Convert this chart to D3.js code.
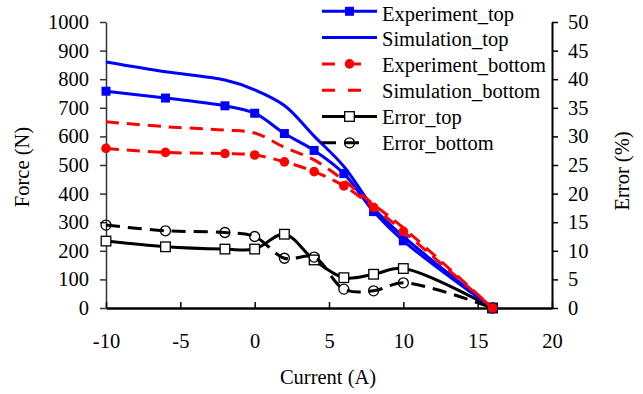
<!DOCTYPE html>
<html>
<head>
<meta charset="utf-8">
<script src="https://cdn.jsdelivr.net/npm/d3@7"></script>
<style>
  html, body { margin: 0; padding: 0; background: #fff; }
  svg { display: block; }
</style>
</head>
<body>
<svg id="chart" width="643" height="394"></svg>
<script>
// Current (A) at each measurement
const current = [-10, -6, -2, 0, 2, 4, 6, 8, 10, 16];

// Force (N)
const experimentTop    = [758, 734, 707, 681, 610, 551, 470, 337, 235, 0];
const simulationTop    = [860, 826, 797, 763, 708, 601, 495, 350, 250, 0];
const experimentBottom = [558, 544, 540, 535, 511, 477, 427, 352, 268, 0];
const simulationBottom = [651, 634, 622, 612, 562, 518, 446, 362, 280, 0];

// Error (%)
const errorTop    = [11.7, 10.7, 10.3, 10.3, 12.9, 8.4, 5.3, 5.9, 6.9, 0];
const errorBottom = [14.5, 13.5, 13.2, 12.5, 8.7, 8.9, 3.3, 3.0, 4.4, 0];

// Tick labels
const xTicks = [-10, -5, 0, 5, 10, 15, 20];
const forceTicks = [0, 100, 200, 300, 400, 500, 600, 700, 800, 900, 1000];
const errorTicks = [0, 5, 10, 15, 20, 25, 30, 35, 40, 45, 50];

const FONT = "'Liberation Serif', 'Times New Roman', Tinos, 'DejaVu Serif', serif";
const FONT_SIZE = "20.5px";

const svg = d3.select("#chart");

const x = d3.scaleLinear().domain([-10, 20]).range([106, 552]);
const yF = d3.scaleLinear().domain([0, 1000]).range([308, 22]);
const yE = d3.scaleLinear().domain([0, 50]).range([308, 22]);

// Axes
const gLeft = svg.append("g").attr("transform", "translate(106,0)")
  .call(d3.axisLeft(yF).tickValues(forceTicks).tickFormat(d3.format("d"))
    .tickSizeInner(6).tickSizeOuter(0).tickPadding(11));
const gRight = svg.append("g").attr("transform", "translate(552,0)")
  .call(d3.axisRight(yE).tickValues(errorTicks).tickFormat(d3.format("d"))
    .tickSizeInner(6).tickSizeOuter(0).tickPadding(10));
const gBottom = svg.append("g").attr("transform", "translate(0,308)")
  .call(d3.axisBottom(x).tickValues(xTicks).tickFormat(d => d < 0 ? "-" + Math.abs(d) : String(d))
    .tickSizeInner(-6).tickSizeOuter(0).tickPadding(25));

[gLeft, gRight, gBottom].forEach(g => {
  g.attr("font-family", FONT).attr("font-size", FONT_SIZE);
  g.selectAll("text").attr("fill", "#000");
});
gLeft.select(".domain").attr("stroke", "#333").attr("stroke-width", 1.5);
gLeft.selectAll(".tick line").attr("stroke", "#333").attr("stroke-width", 1.5);
gRight.select(".domain").attr("stroke", "#000").attr("stroke-width", 2);
gRight.selectAll(".tick line").attr("stroke", "#000").attr("stroke-width", 1.5);
gBottom.select(".domain").attr("stroke", "#000").attr("stroke-width", 2.5);
gBottom.selectAll(".tick line").attr("stroke", "#000").attr("stroke-width", 1.5);

// Axis titles
function title(sel) {
  return sel.attr("text-anchor", "middle").attr("font-family", FONT).attr("font-size", FONT_SIZE);
}
title(svg.append("text").attr("x", 328).attr("y", 384)).text("Current (A)");
title(svg.append("text").attr("transform", "translate(29,167) rotate(-90)")).text("Force (N)");
title(svg.append("text").attr("transform", "translate(629,171) rotate(-90)")).text("Error (%)");

const smooth = d3.curveCatmullRom.alpha(0.5);

const series = [
  { name: "Error_top", values: errorTop, scale: yE, color: "#000", dash: null, marker: "openSquare" },
  { name: "Error_bottom", values: errorBottom, scale: yE, color: "#000", dash: "14,8", marker: "openCircle" },
  { name: "Experiment_top", values: experimentTop, scale: yF, color: "#0000ff", dash: null, marker: "square" },
  { name: "Simulation_top", values: simulationTop, scale: yF, color: "#0000ff", dash: null, marker: null },
  { name: "Experiment_bottom", values: experimentBottom, scale: yF, color: "#ff0000", dash: "13,8", marker: "circle" },
  { name: "Simulation_bottom", values: simulationBottom, scale: yF, color: "#ff0000", dash: "13,8", marker: null }
];

function drawMarker(g, type, cx, cy, color) {
  if (type === "square") {
    g.append("rect").attr("x", cx - 4.5).attr("y", cy - 4.5).attr("width", 9).attr("height", 9)
      .attr("fill", color);
  } else if (type === "circle") {
    g.append("circle").attr("cx", cx).attr("cy", cy).attr("r", 4.8).attr("fill", color);
  } else if (type === "openSquare") {
    g.append("rect").attr("x", cx - 4.8).attr("y", cy - 4.8).attr("width", 9.6).attr("height", 9.6)
      .attr("fill", "#fff").attr("stroke", color).attr("stroke-width", 1.3);
  } else if (type === "openCircle") {
    g.append("circle").attr("cx", cx).attr("cy", cy).attr("r", 5)
      .attr("fill", "none").attr("stroke", color).attr("stroke-width", 1.3);
  }
}

const plot = svg.append("g");
series.forEach(s => {
  const pts = current.map((c, i) => [x(c), s.scale(s.values[i])]);
  const line = d3.line().curve(smooth);
  plot.append("path").attr("d", line(pts)).attr("fill", "none")
    .attr("stroke", s.color).attr("stroke-width", 3)
    .attr("stroke-dasharray", s.dash);
  if (s.marker) {
    const mg = plot.append("g");
    pts.forEach(p => drawMarker(mg, s.marker, p[0], p[1], s.color));
  }
});

// Legend
const legendOrder = ["Experiment_top", "Simulation_top", "Experiment_bottom",
                     "Simulation_bottom", "Error_top", "Error_bottom"];
const legend = svg.append("g");
legendOrder.forEach((name, i) => {
  const s = series.find(d => d.name === name);
  const ly = 11.3 + i * 26.3;
  const ty = 20.5 + i * 25.9;
  const dashed = !!s.dash;
  legend.append("line").attr("x1", 322).attr("x2", dashed ? 362 : 377)
    .attr("y1", ly).attr("y2", ly)
    .attr("stroke", s.color).attr("stroke-width", 3)
    .attr("stroke-dasharray", dashed ? (s.color === "#000" ? "14,9" : "13,13") : null);
  if (s.marker) drawMarker(legend, s.marker, 349.5, ly, s.color);
  legend.append("text").attr("x", 382).attr("y", ty)
    .attr("font-family", FONT).attr("font-size", FONT_SIZE).text(name);
});
</script>
</body>
</html>
